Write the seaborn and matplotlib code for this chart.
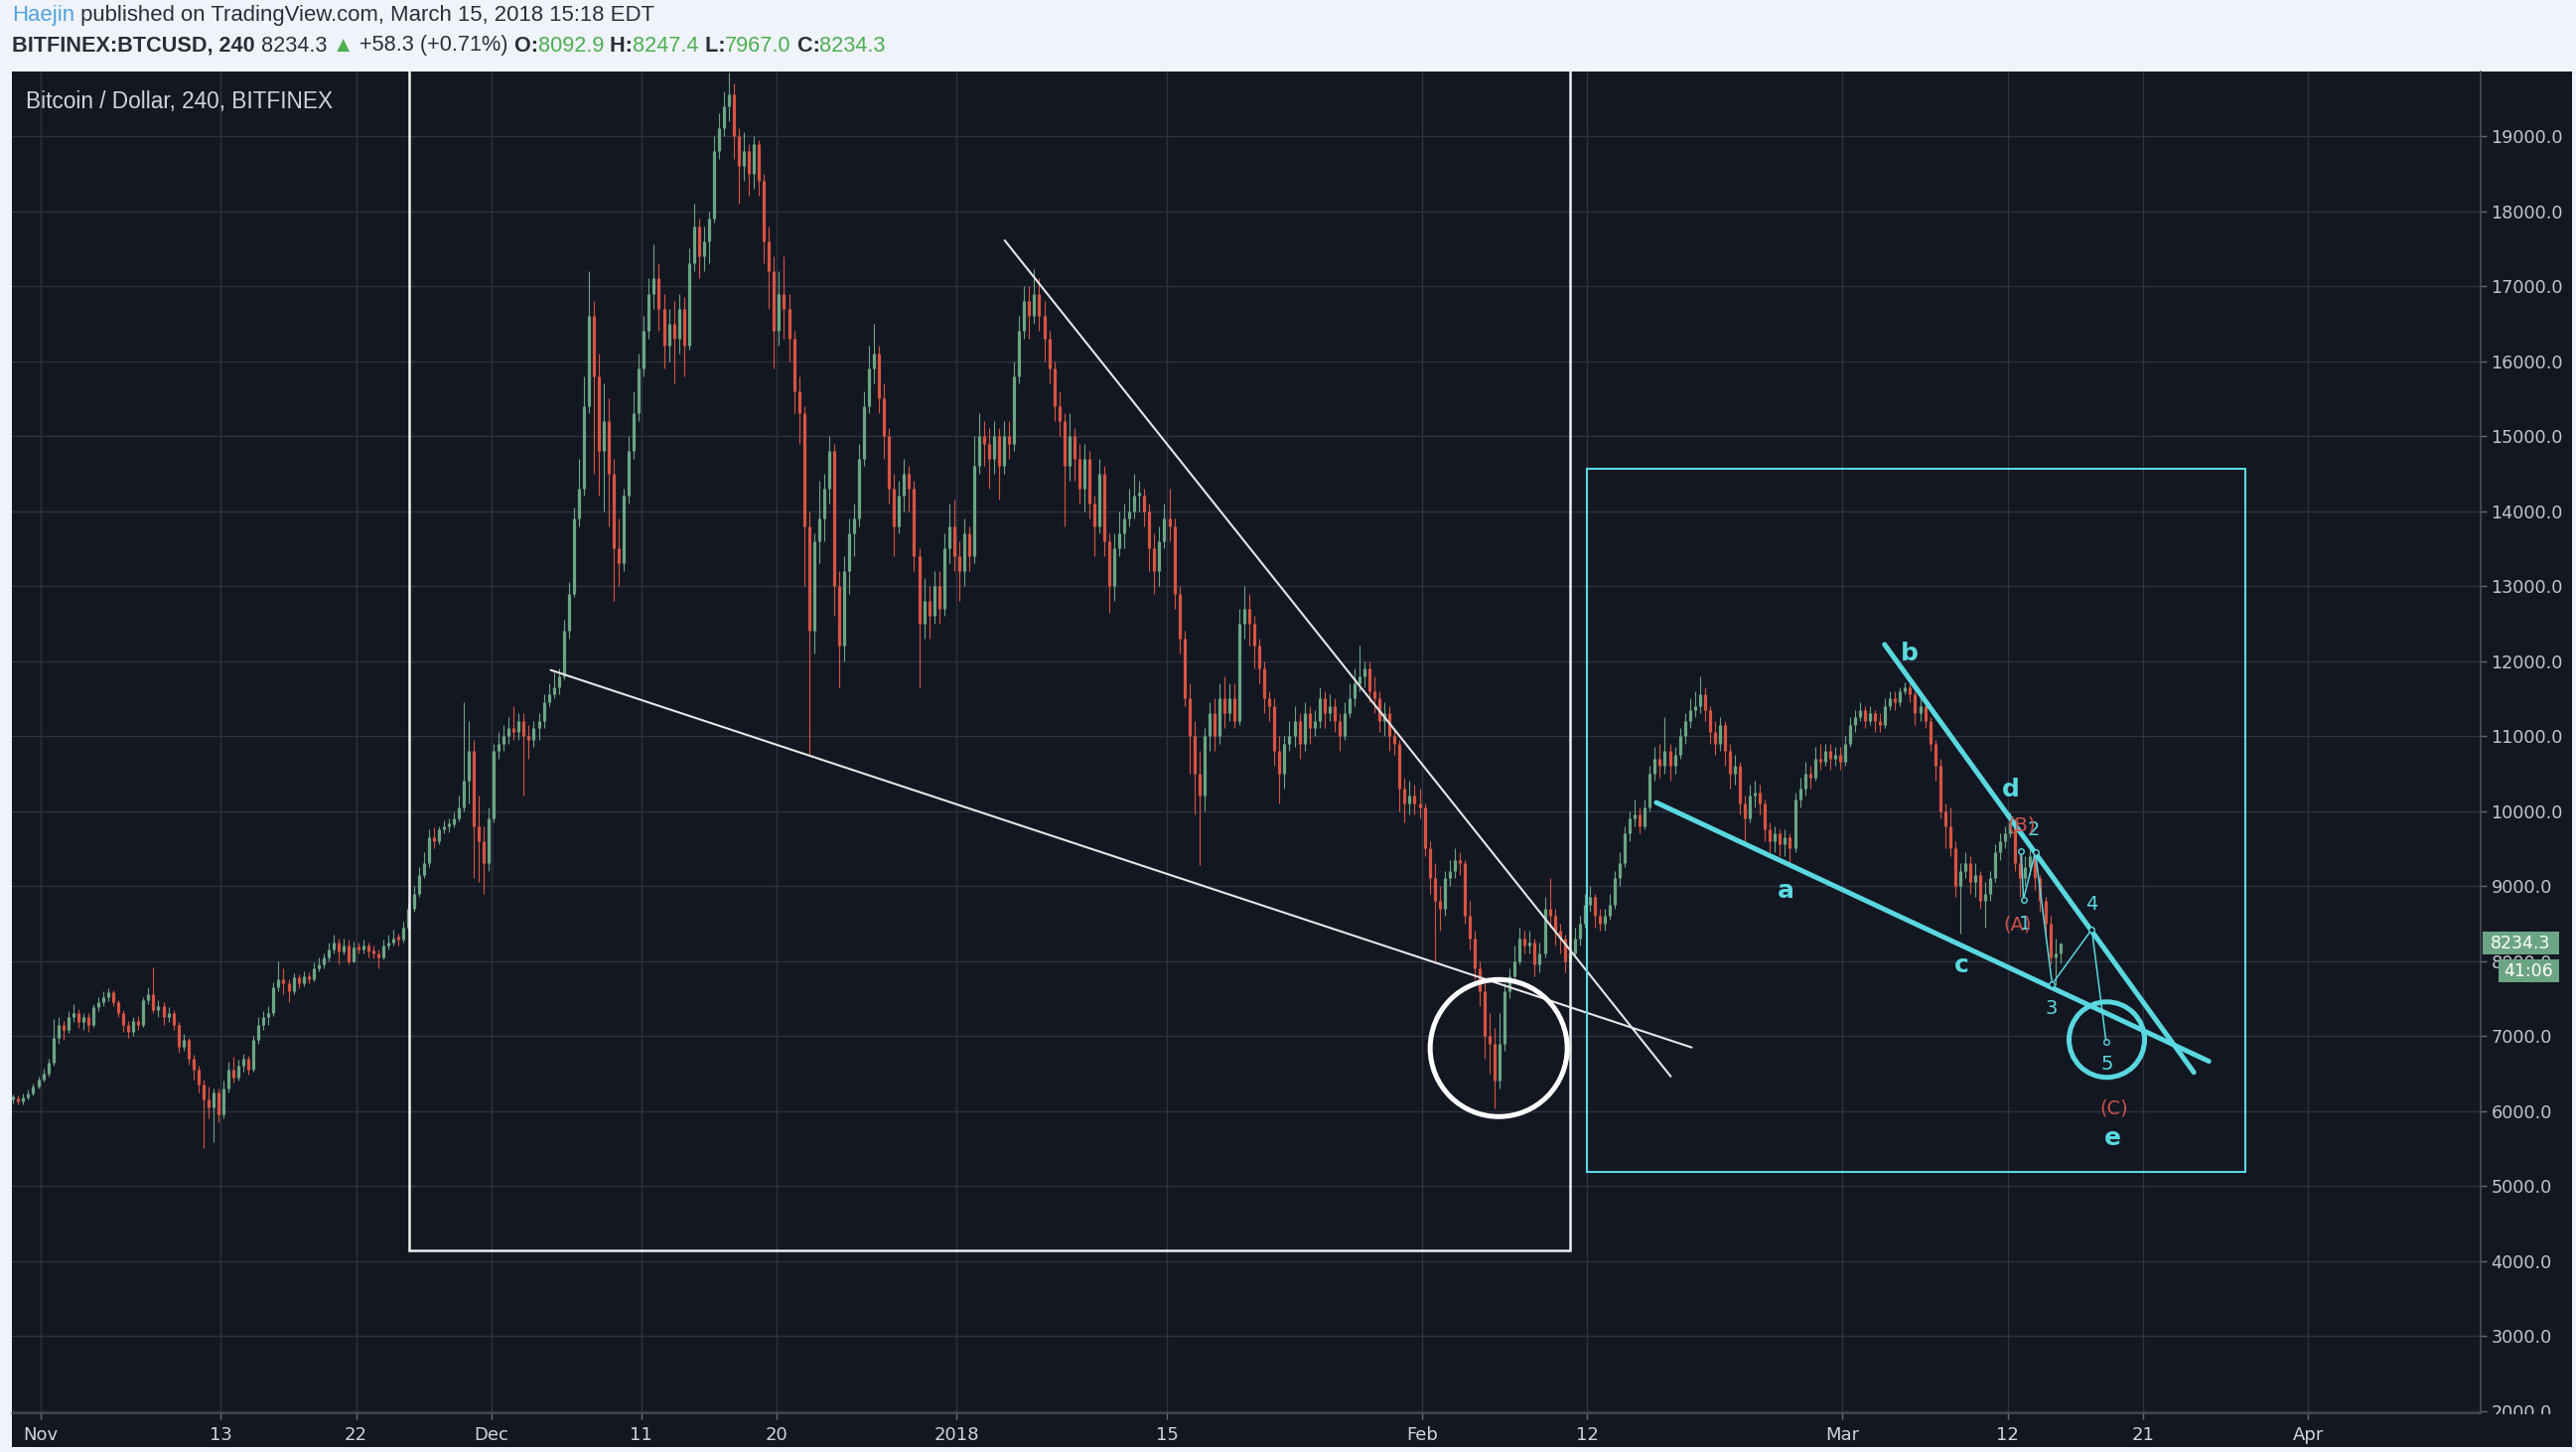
import numpy as np
import pandas as pd
import matplotlib
matplotlib.use("Agg")
import matplotlib.pyplot as plt
import matplotlib.transforms as mtransforms
from matplotlib.patches import Rectangle, Ellipse
import seaborn as sns

# ---------------- data (8-hour candles, BITFINEX BTCUSD) ----------------
START = "2017-10-30 00:00"
FIRST_OPEN = 6150
CLOSE = [
 6160, 6120, 6180, 6230, 6330, 6420, 6500, 6640, 6980, 7150, 7080, 7250,
 7300, 7180, 7250, 7150, 7380, 7450, 7520, 7580, 7450, 7300, 7150, 7050,
 7200, 7150, 7480, 7550, 7350, 7400, 7250, 7300, 7150, 6850, 6950, 6700,
 6550, 6350, 6150, 6050, 6250, 5950, 6300, 6550, 6450, 6600, 6700, 6550,
 6950, 7150, 7250, 7300, 7650, 7750, 7700, 7600, 7780, 7700, 7800, 7760,
 7900, 7950, 8050, 8150, 8250, 8120, 8200, 8000, 8180, 8150, 8200, 8120,
 8100, 8050, 8200, 8250, 8300, 8280, 8450, 8700, 8900, 9150, 9300, 9650,
 9600, 9750, 9800, 9820, 9900, 10050, 10400, 10800, 9800, 9600, 9300, 9900,
 10800, 10900, 11000, 11100, 11050, 11200, 11000, 10950, 11100, 11200, 11450, 11550,
 11650, 11800, 12400, 12900, 13900, 14300, 15400, 16600, 15800, 14800, 15200, 14500,
 13500, 13300, 14200, 14800, 15300, 15900, 16400, 16900, 17100, 16700, 16200, 16500,
 16300, 16700, 16200, 17300, 17800, 17400, 17600, 17900, 18800, 19100, 19400, 19550,
 19000, 18600, 18800, 18500, 18900, 18400, 17600, 17200, 16400, 16900, 16700, 16300,
 15600, 15300, 13800, 12400, 13600, 13900, 14300, 14800, 13000, 12200, 13200, 13700,
 13900, 14700, 15400, 15900, 16100, 15500, 15000, 14300, 13800, 14200, 14500, 14300,
 13400, 12500, 12800, 12600, 13000, 12700, 13500, 13800, 13400, 13200, 13700, 13400,
 14600, 15000, 14900, 14700, 15000, 14600, 15000, 14900, 15800, 16400, 16800, 16600,
 16900, 16600, 16300, 15900, 15400, 15200, 14600, 15000, 14700, 14300, 14700, 14100,
 13800, 14500, 13600, 13000, 13500, 13700, 13900, 14000, 14200, 14200, 14000, 13500,
 13200, 13600, 13900, 13800, 12900, 12300, 11500, 11000, 10500, 10200, 11000, 11300,
 11000, 11500, 11300, 11500, 11200, 12500, 12700, 12500, 12200, 11900, 11500, 11400,
 10800, 10500, 10900, 11000, 11200, 10900, 11300, 11100, 11200, 11500, 11300, 11400,
 11200, 11000, 11300, 11500, 11700, 11800, 11900, 11600, 11500, 11200, 11300, 11000,
 10900, 10300, 10100, 10200, 10100, 10050, 9500, 9100, 8800, 8700, 9100, 9200,
 9350, 9300, 8600, 8300, 7900, 7600, 7000, 6900, 6400, 6900, 7600, 7800,
 8000, 8300, 8200, 8250, 7950, 8100, 8700, 8600, 8400, 8300, 8000, 8100,
 8300, 8500, 8750, 8850, 8600, 8500, 8600, 8750, 9100, 9300, 9700, 9900,
 9950, 9800, 10050, 10500, 10700, 10600, 10800, 10600, 10750, 11000, 11200, 11350,
 11400, 11550, 11350, 11050, 10900, 11150, 10800, 10500, 10600, 10100, 9900, 10200,
 10250, 10100, 9750, 9600, 9700, 9550, 9650, 9500, 10150, 10300, 10500, 10450,
 10700, 10650, 10800, 10700, 10750, 10650, 10900, 11150, 11250, 11350, 11200, 11300,
 11200, 11150, 11400, 11500, 11450, 11600, 11650, 11550, 11300, 11400, 11200, 10900,
 10600, 10000, 9800, 9500, 9000, 9200, 9300, 9050, 9150, 8800, 8900, 9100,
 9450, 9600, 9700, 9850, 9300, 9100, 9250, 9400, 9100, 8800, 8500, 8050,
 8092.9, 8234.3,
]
HIGH = [
 6220, 6200, 6230, 6280, 6370, 6460, 6560, 6700, 7230, 7250, 7200, 7330,
 7420, 7360, 7300, 7300, 7430, 7520, 7600, 7640, 7610, 7480, 7350, 7200,
 7250, 7260, 7520, 7650, 7920, 7480, 7450, 7380, 7340, 7180, 7020, 6980,
 6750, 6600, 6420, 6320, 6300, 6300, 6400, 6650, 6720, 6680, 6760, 6730,
 7000, 7250, 7330, 7400, 7720, 8000, 7900, 7760, 7830, 7820, 7860, 7850,
 7980, 8050, 8100, 8250, 8350, 8300, 8300, 8280, 8260, 8250, 8280, 8240,
 8200, 8150, 8280, 8350, 8420, 8360, 8520, 8780, 9000, 9250, 9450, 9750,
 9780, 9800, 9880, 9900, 9980, 10200, 11450, 11200, 10950, 10200, 9800, 10050,
 10900, 11050, 11150, 11250, 11400, 11300, 11300, 11150, 11200, 11300, 11550, 11700,
 11850, 11900, 12550, 13050, 14050, 14700, 15800, 17200, 16800, 16100, 15700, 15500,
 14700, 13900, 14300, 15000, 15600, 16100, 16600, 17100, 17560, 17300, 16900, 16700,
 16800, 16900, 16850, 17500, 18100, 17900, 17800, 18000, 19000, 19300, 19600, 19850,
 19700, 19100, 19050, 18900, 19000, 18950, 18500, 17800, 17400, 17200, 17400, 16900,
 16400, 15800, 15400, 14000, 13700, 14400, 14500, 15000, 14900, 13200, 13400, 13900,
 14100, 14900, 15600, 16200, 16500, 16200, 15700, 15100, 14500, 14400, 14700, 14600,
 14400, 13500, 13100, 13000, 13200, 13200, 13700, 14100, 14150, 13600, 13900, 13800,
 15000, 15300, 15200, 15100, 15200, 15100, 15200, 15200, 16000, 16600, 17000, 17000,
 17220, 17100, 16800, 16400, 16000, 15600, 15300, 15300, 15100, 14900, 14900, 14800,
 14200, 14700, 14600, 13700, 13700, 14000, 14100, 14300, 14500, 14400, 14300, 14100,
 13700, 13800, 14100, 14300, 13900, 13000, 12400, 11700, 11200, 10800, 11100, 11450,
 11500, 11700, 11800, 11700, 11700, 12700, 13000, 12900, 12600, 12300, 12000, 11600,
 11500, 11000, 11000, 11200, 11400, 11300, 11450, 11400, 11350, 11650, 11600, 11550,
 11500, 11300, 11450, 11700, 11900, 12200, 12000, 12000, 11800, 11600, 11450, 11400,
 11100, 10950, 10450, 10400, 10350, 10300, 10100, 9600, 9300, 9000, 9200, 9350,
 9500, 9450, 9350, 8800, 8400, 8000, 7700, 7300, 7100, 7300, 7700, 7900,
 8200, 8450, 8400, 8400, 8300, 8250, 8850, 9100, 8700, 8500, 8350, 8300,
 8450, 8600, 8900, 9000, 8900, 8700, 8700, 8900, 9200, 9450, 9800, 10000,
 10150, 10050, 10150, 10600, 10850, 10900, 11250, 10900, 10850, 11100, 11300, 11500,
 11600, 11800, 11650, 11400, 11200, 11250, 11200, 10900, 10750, 10650, 10200, 10350,
 10400, 10350, 10150, 9850, 9800, 9750, 9750, 9700, 10250, 10450, 10650, 10600,
 10850, 10900, 10900, 10900, 10850, 10850, 11000, 11250, 11350, 11450, 11400, 11400,
 11350, 11300, 11500, 11600, 11600, 11650, 11720, 11700, 11600, 11500, 11450, 11250,
 10950, 10700, 10100, 10050, 9600, 9300, 9450, 9400, 9300, 9200, 9050, 9200,
 9550, 9700, 9800, 9980, 9900, 9450, 9400, 9500, 9450, 9150, 8850, 8600,
 8300, 8247.4,
]
LOW = [
 6100, 6080, 6090, 6150, 6200, 6300, 6390, 6460, 6600, 6900, 6950, 7040,
 7180, 7100, 7080, 7050, 7120, 7330, 7400, 7470, 7400, 7250, 7050, 6980,
 7000, 7080, 7120, 7420, 7300, 7250, 7150, 7180, 7080, 6780, 6800, 6620,
 6420, 6250, 5500, 5900, 5580, 5850, 5900, 6250, 6380, 6400, 6520, 6480,
 6520, 6900, 7080, 7150, 7260, 7600, 7550, 7450, 7560, 7640, 7660, 7700,
 7730, 7860, 7900, 8000, 8100, 7950, 8080, 7950, 7980, 8100, 8100, 8050,
 8030, 7900, 8020, 8150, 8200, 8200, 8250, 8420, 8650, 8850, 9100, 9250,
 9500, 9550, 9700, 9720, 9780, 9860, 10000, 10100, 9100, 9050, 8900, 9200,
 9850, 10700, 10800, 10900, 10950, 10950, 10200, 10700, 10850, 10950, 11100, 11400,
 11500, 11550, 11750, 12300, 12850, 13800, 14200, 15300, 14500, 14200, 14000, 13800,
 12800, 13000, 13200, 14100, 14700, 15200, 15800, 16300, 16700, 16400, 15900, 16000,
 15700, 16100, 15800, 16150, 17200, 17100, 17200, 17300, 17850, 18700, 19000, 19200,
 18700, 18100, 18400, 18200, 18300, 18200, 17300, 16700, 15900, 16200, 16300, 16000,
 15300, 14900, 13000, 10740, 12100, 13300, 13600, 14100, 12600, 11650, 12000, 12900,
 13400, 13800, 14600, 15300, 15700, 15300, 14700, 14100, 13400, 13700, 14000, 14000,
 13200, 11650, 12300, 12300, 12500, 12500, 12600, 13300, 13200, 12800, 13000, 13200,
 13300, 14500, 14600, 14300, 14500, 14150, 14500, 14700, 14800, 15700, 16300, 16300,
 16500, 16400, 16000, 15700, 15200, 15000, 13800, 14400, 14400, 14100, 14000, 13900,
 13400, 13700, 13400, 12640, 12800, 13400, 13500, 13800, 13900, 14000, 13800, 13200,
 12900, 13000, 13500, 13600, 12700, 12100, 11400, 10500, 9950, 9280, 10000, 10800,
 10800, 10900, 11100, 11200, 11100, 11150, 12300, 12200, 11900, 11700, 11300, 11200,
 10600, 10100, 10300, 10800, 10850, 10700, 10800, 10900, 11000, 11100, 11100, 11200,
 11050, 10800, 10950, 11250, 11400, 11600, 11650, 11450, 11300, 11050, 11000, 10800,
 10750, 10000, 9850, 9950, 9950, 9900, 9400, 8900, 8000, 8400, 8600, 9000,
 9100, 9150, 8500, 8150, 7750, 7400, 6700, 6500, 6030, 6300, 6800, 7500,
 7700, 7950, 8100, 8100, 7800, 7850, 8050, 8450, 8200, 8100, 7850, 7900,
 8050, 8200, 8450, 8650, 8450, 8400, 8400, 8550, 8700, 9000, 9250, 9600,
 9800, 9700, 9750, 10000, 10400, 10450, 10500, 10400, 10500, 10700, 10900, 11100,
 11250, 11300, 11200, 10900, 10750, 10800, 10600, 10300, 10350, 9950, 9600, 9850,
 10050, 9950, 9600, 9450, 9450, 9400, 9400, 9320, 9450, 10050, 10200, 10300,
 10400, 10550, 10600, 10550, 10600, 10550, 10600, 10850, 11050, 11200, 11100, 11150,
 11050, 11050, 11100, 11350, 11350, 11400, 11550, 11450, 11150, 11200, 11100, 10800,
 10400, 9900, 9500, 9400, 8850, 8370, 9100, 8900, 8850, 8700, 8450, 8800,
 9050, 9350, 9500, 9650, 9200, 8850, 9000, 9150, 8950, 8650, 8300, 7950,
 7680, 7967.0,
]

TICK_DAYS = [0, 12, 21, 30, 40, 49, 61, 75, 92, 103, 120, 131, 140, 151]
TICK_LABELS = ["Nov", "13", "22", "Dec", "11", "20", "2018", "15", "Feb", "12", "Mar", "12", "21", "Apr"]
Y_TICKS = list(range(2000, 20000, 1000))
LAST_PRICE = 8234.3
COUNTDOWN = "41:06"

# drawings: x = days since 2017-11-01, y = price
WHITE_LOW_X, WHITE_LOW_Y = [33.96, 109.95], [11879, 6846]
WHITE_HIGH_X, WHITE_HIGH_Y = [64.2, 108.56], [17609, 6459]
WHITE_BOX_X, WHITE_BOX_Y = [24.55, 101.85], [4139, 20500]
WHITE_CIRCLE = (97.1, 6837)
CYAN_BOX_X, CYAN_BOX_Y = [103.0, 146.85], [5180, 14560]
CYAN_A_X, CYAN_A_Y = [107.6, 144.4], [10112, 6661]
CYAN_B_X, CYAN_B_Y = [122.8, 143.4], [12220, 6513]
WAVE_X = [131.9, 132.05, 132.84, 133.96, 136.6, 137.55]
WAVE_Y = [9470, 8821, 9448, 7691, 8420, 6927]
CYAN_CIRCLE = (137.6, 6950)
CYAN_LABELS = [("a", 116.25, 8937), ("b", 124.45, 12105), ("c", 127.9, 7942),
               ("d", 131.2, 10286), ("e", 138.0, 5635)]
WAVE_LABELS = [("1", 132.14, 8488), ("2", 132.75, 9743), ("3", 133.93, 7362),
               ("4", 136.6, 8749), ("5", 137.6, 6619)]
RED_LABELS = [("(A)", 131.66, 8488), ("(B)", 131.94, 9814), ("(C)", 138.07, 6027)]

# ---------------- style ----------------
BG = "#131722"
GRID = "#2f3340"
UP = "#6ba583"
DOWN = "#d75442"
CYAN = "#5ad8e0"
WHITE = "#e6e6e6"
AXTXT = "#c3c6ce"
LIGHT = "#f0f3fa"

sns.set_style("dark", {"axes.facecolor": BG, "figure.facecolor": LIGHT})
plt.rcParams["font.family"] = ["DejaVu Sans"]

W, H = 2594, 1462
fig = plt.figure(figsize=(W / 100, H / 100), dpi=100)
fig.patch.set_facecolor(LIGHT)

def fx(px):
    return px / W

def fy(py):
    return 1 - py / H

fig.patches.append(Rectangle((fx(12), fy(1457)), fx(2590) - fx(12), fy(72) - fy(1457),
                             transform=fig.transFigure, facecolor=BG, edgecolor="none", zorder=-5))
ax = fig.add_axes([fx(12), fy(1423), fx(2498) - fx(12), fy(72) - fy(1423)])
ax.set_zorder(1)
ax.set_facecolor(BG)

# candles
times = pd.date_range(START, periods=len(CLOSE), freq="8h")
x = ((times - pd.Timestamp("2017-11-01")) / pd.Timedelta(days=1)).values + 1 / 6
c = np.array(CLOSE, float)
o = np.r_[FIRST_OPEN, c[:-1]]
hi = np.maximum(np.array(HIGH, float), np.maximum(o, c))
lo = np.minimum(np.array(LOW, float), np.minimum(o, c))
cols = np.where(c >= o, UP, DOWN)
ax.vlines(x, lo, hi, colors=cols, lw=0.8, zorder=2)
bt = np.maximum(o, c)
bb = np.minimum(o, c)
ax.vlines(x, bb, np.maximum(bt, bb + 40), colors=cols, lw=2.3, zorder=2)

# white drawings
sns.lineplot(x=WHITE_LOW_X, y=WHITE_LOW_Y, ax=ax, color=WHITE, lw=1.5, sort=False, zorder=3)
sns.lineplot(x=WHITE_HIGH_X, y=WHITE_HIGH_Y, ax=ax, color=WHITE, lw=1.5, sort=False, zorder=3)
ax.add_patch(Rectangle((WHITE_BOX_X[0], WHITE_BOX_Y[0]), WHITE_BOX_X[1] - WHITE_BOX_X[0],
                       WHITE_BOX_Y[1] - WHITE_BOX_Y[0], fill=False, ec="#eeeeee", lw=1.8, zorder=3))
# cyan drawings
ax.add_patch(Rectangle((CYAN_BOX_X[0], CYAN_BOX_Y[0]), CYAN_BOX_X[1] - CYAN_BOX_X[0],
                       CYAN_BOX_Y[1] - CYAN_BOX_Y[0], fill=False, ec=CYAN, lw=1.5, zorder=3))
sns.lineplot(x=CYAN_A_X, y=CYAN_A_Y, ax=ax, color=CYAN, lw=3.6, sort=False, zorder=4)
sns.lineplot(x=CYAN_B_X, y=CYAN_B_Y, ax=ax, color=CYAN, lw=3.6, sort=False, zorder=4)
sns.lineplot(x=WAVE_X, y=WAVE_Y, ax=ax, color=CYAN, lw=1.1, sort=False, zorder=4,
             marker="o", markersize=4, markerfacecolor=BG, markeredgecolor=CYAN, markeredgewidth=1.0)

XLIM = (-1.92, 162.5)
YLIM = (1967, 19861)
ax.set_xlim(*XLIM)
ax.set_ylim(*YLIM)
px_day = (2498 - 12) / (XLIM[1] - XLIM[0])
px_price = (1423 - 72) / (YLIM[1] - YLIM[0])
ax.add_patch(Ellipse(WHITE_CIRCLE, 2 * 69 / px_day, 2 * 69 / px_price, fill=False,
                     ec="white", lw=3.6, zorder=4))
ax.add_patch(Ellipse(CYAN_CIRCLE, 2 * 38 / px_day, 2 * 38 / px_price, fill=False,
                     ec=CYAN, lw=3.6, zorder=4))

for s, xx, yy in CYAN_LABELS:
    ax.text(xx, yy, s, color=CYAN, fontsize=18, fontweight="bold", ha="center", va="center", zorder=5)
for s, xx, yy in WAVE_LABELS:
    ax.text(xx, yy, s, color=CYAN, fontsize=14, ha="center", va="center", zorder=5)
for s, xx, yy in RED_LABELS:
    ax.text(xx, yy, s, color="#c9504a", fontsize=14, ha="center", va="center", zorder=5)

# axes cosmetics
ax.set_xlabel("")
ax.set_ylabel("")
ax.set_xticks(TICK_DAYS)
ax.set_xticklabels(TICK_LABELS)
ax.set_yticks(Y_TICKS)
ax.set_yticklabels([f"{v:.1f}" for v in Y_TICKS])
ax.yaxis.tick_right()
ax.grid(True, color=GRID, lw=1.0)
ax.set_axisbelow(True)
for side in ["left", "top"]:
    ax.spines[side].set_visible(False)
for side in ["right", "bottom"]:
    ax.spines[side].set_visible(True)
    ax.spines[side].set_color("#4b4f5c")
    ax.spines[side].set_linewidth(1.2)
ax.tick_params(axis="y", which="both", right=True, left=False, length=4.5, width=1,
               color="#6a6d78", labelcolor=AXTXT, labelsize=12.7, pad=3)
ax.tick_params(axis="x", which="both", bottom=True, length=4.5, width=1,
               color="#6a6d78", labelcolor="#d1d4dc", labelsize=13, pad=4.5)
if ax.get_legend() is not None:
    ax.get_legend().remove()

# the bottom price label is half hidden under the time axis, as in the reference
fig.add_artist(Rectangle((fx(2499), fy(1457)), fx(2590) - fx(2499), fy(1424) - fy(1457),
                         transform=fig.transFigure, facecolor=BG, edgecolor="none", zorder=10))

# price labels on the axis
tr = mtransforms.blended_transform_factory(fig.transFigure, ax.transData)
bh = 23 / px_price
fig.add_artist(Rectangle((fx(2500), LAST_PRICE - bh / 2), fx(2577) - fx(2500), bh,
                         transform=tr, facecolor=UP, edgecolor="none", zorder=11))
fig.add_artist(plt.Text(fx(2538), LAST_PRICE, f"{LAST_PRICE:.1f}", transform=tr, color="white",
                        fontsize=12.5, ha="center", va="center", zorder=12))
off = 28 / px_price
fig.add_artist(Rectangle((fx(2516), LAST_PRICE - off - bh / 2), fx(2577) - fx(2516), bh,
                         transform=tr, facecolor=UP, edgecolor="none", zorder=11))
fig.add_artist(plt.Text(fx(2546), LAST_PRICE - off, COUNTDOWN, transform=tr, color="white",
                        fontsize=12.5, ha="center", va="center", zorder=12))

# header texts
renderer = fig.canvas.get_renderer()

def draw_pieces(pieces, x_px, y_px, size, family):
    xx = x_px
    arts = []
    for s, col, wt in pieces:
        t = fig.text(fx(xx), fy(y_px), s, color=col, fontsize=size, fontweight=wt,
                     family=family, ha="left", va="center", zorder=12)
        xx += t.get_window_extent(renderer).width
        arts.append(t)
    return xx - x_px, arts

def fit_pieces(pieces, x_px, y_px, target, family, size0=14):
    w, arts = draw_pieces(pieces, x_px, y_px, size0, family)
    for a in arts:
        a.remove()
    draw_pieces(pieces, x_px, y_px, size0 * target / w, family)

DARK = "#2a2e39"
GREEN = "#4caf50"
HFONT = ["Liberation Sans", "DejaVu Sans"]
fit_pieces([("Haejin", "#52a3df", "normal"),
            (" published on TradingView.com, March 15, 2018 15:18 EDT", DARK, "normal")],
           12, 16, 650, HFONT)
fit_pieces([("BITFINEX:BTCUSD, 240", DARK, "bold"), (" 8234.3", DARK, "normal"),
            (" \u25b2", GREEN, "normal"), (" +58.3 (+0.71%)", DARK, "normal"),
            (" O:", DARK, "bold"), ("8092.9", GREEN, "normal"),
            (" H:", DARK, "bold"), ("8247.4", GREEN, "normal"),
            (" L:", DARK, "bold"), ("7967.0", GREEN, "normal"),
            (" C:", DARK, "bold"), ("8234.3", GREEN, "normal")],
           12, 46, 880, HFONT)
fit_pieces([("Bitcoin / Dollar, 240, BITFINEX", "#d1d4dc", "normal")], 26, 102, 310, HFONT)

fig.savefig("out.png", dpi=100, facecolor=LIGHT)
